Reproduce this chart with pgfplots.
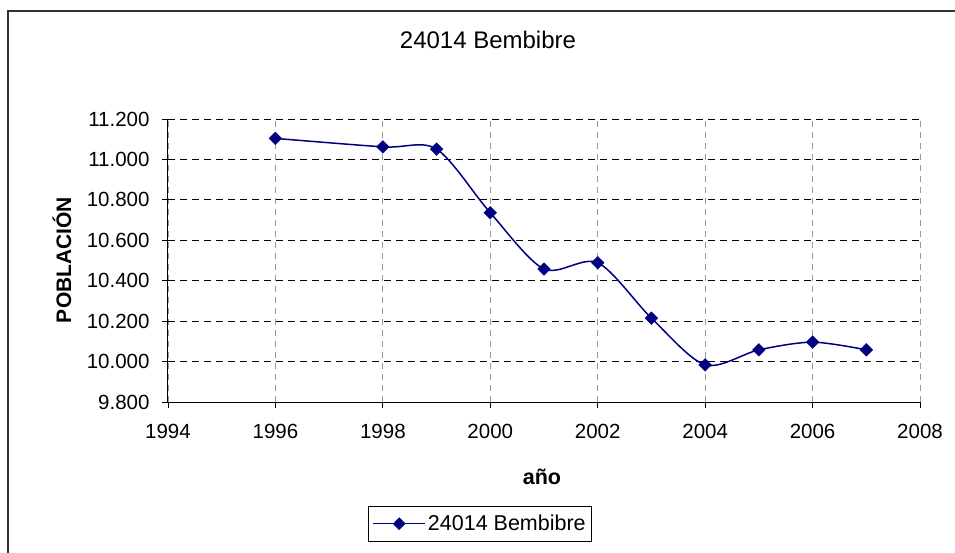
\documentclass[border=0pt]{standalone}
\usepackage{pgfplots}
\pgfplotsset{compat=1.18}
\usepackage{fontspec}
\setmainfont{Liberation Sans}
\definecolor{navyline}{RGB}{0,0,128}
\begin{document}
\begin{tikzpicture}
\begin{axis}[
  width=752pt, height=283pt, scale only axis,
  xmin=1994, xmax=2008, ymin=9800, ymax=11200,
  xtick={1994,1996,...,2008},
  ytick={9800,10000,...,11200},
  scaled y ticks=false, scaled x ticks=false,
  axis x line*=bottom, axis y line*=left,
  axis line style={black, line width=1pt},
  tick align=outside, major tick length=6pt,
  tick style={black, line width=0.8pt},
  grid=major,
  x grid style={gray!80, line width=0.9pt, dash pattern=on 6pt off 5pt},
  y grid style={black, line width=0.8pt, dash pattern=on 7pt off 5pt},
  /pgf/number format/assume math mode=true,
  xticklabel style={/pgf/number format/1000 sep={}, font=\fontsize{20.5}{24}\selectfont, yshift=-13pt},
  yticklabel style={/pgf/number format/1000 sep={.}, font=\fontsize{20.5}{24}\selectfont, xshift=-9pt},
  legend style={at={(rel axis cs:0.415,-0.43)}, anchor=center, draw=black, line width=0.8pt,
    font=\fontsize{21.5}{24}\selectfont, inner xsep=4pt, inner ysep=7pt},
  legend cell align=left,
  legend image code/.code={
    \draw[navyline, line width=1.5pt] (-4pt,0pt) -- (48pt,0pt);
    \draw[navyline, mark=square*, mark size=4.3pt, mark options={fill=navyline, solid, line width=0.4pt, rotate=45}] plot coordinates {(22pt,0pt)};
  },
  legend style={/tikz/every even column/.append style={column sep=0pt}},
]
\addplot[navyline, line width=1.5pt, smooth, mark=square*, mark size=4.5pt,
  mark options={fill=navyline, solid, line width=0.4pt, rotate=45}]
  coordinates {
  (1996,11104) (1998,11062) (1999,11051) (2000,10736) (2001,10458)
  (2002,10489) (2003,10215) (2004,9984) (2005,10058) (2006,10096) (2007,10058)
  };
\addlegendentry{24014 Bembibre}
\end{axis}
\path[use as bounding box] ([xshift=-168pt,yshift=-150pt]current axis.south west) rectangle ++(955pt,552pt);
\draw[black!80, line width=2pt] ([xshift=-160pt,yshift=-152pt]current axis.south west) -- ++(0,543pt) -- ++(950pt,0);
\node[font=\fontsize{24}{28}\selectfont] at ([xshift=320pt,yshift=362pt]current axis.south west) {24014 Bembibre};
\node[font=\fontsize{21}{24}\selectfont\bfseries, rotate=90] at ([xshift=-106pt,yshift=142pt]current axis.south west) {POBLACIÓN};
\node[font=\fontsize{21.5}{24}\selectfont\bfseries] at ([xshift=374pt,yshift=-75pt]current axis.south west) {año};
\end{tikzpicture}
\end{document}
